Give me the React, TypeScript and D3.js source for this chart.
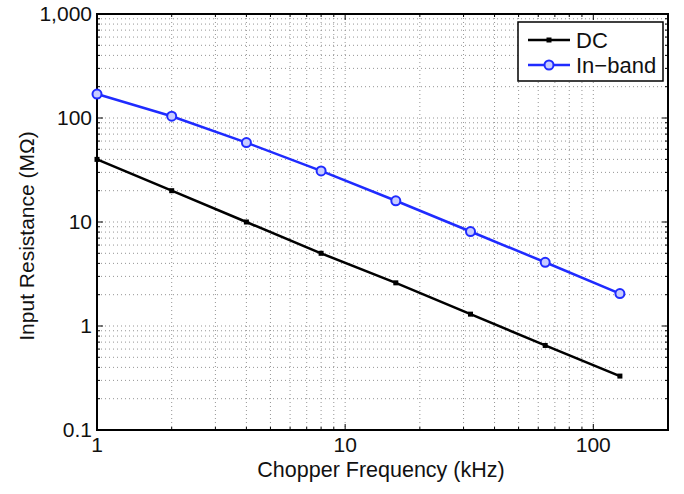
import React from "react";
import * as d3 from "d3";

const freqs = [1, 2, 4, 8, 16, 32, 64, 128];
const dcValues = [40, 20, 10, 5, 2.6, 1.3, 0.65, 0.33];
const inbandValues = [170, 104, 58, 31, 16, 8.1, 4.1, 2.05];
const xTickLabels = ["1", "10", "100"];
const yTickLabels = ["0.1", "1", "10", "100", "1,000"];

const W = 684, H = 494;
const m = { left: 97, right: 668, top: 14, bottom: 430 };

export default function App() {
  const x = d3.scaleLog().domain([1, 200]).range([m.left, m.right]);
  const y = d3.scaleLog().domain([0.1, 1000]).range([m.bottom, m.top]);
  const font = "'Liberation Sans', Arial, Helvetica, sans-serif";

  const xMinor: number[] = [];
  for (let d = 1; d <= 100; d *= 10)
    for (let k = 1; k <= 9; k++) { const v = d * k; if (v <= 200) xMinor.push(v); }
  xMinor.push(200);
  const yMinor: number[] = [];
  for (let d = 0.1; d <= 100.0001; d *= 10)
    for (let k = 1; k <= 9; k++) yMinor.push(d * k);
  yMinor.push(1000);

  const line = d3.line<number>().x((_, i) => x(freqs[i])).y((v) => y(v));
  const xMajor = [1, 10, 100];
  const yMajor = [0.1, 1, 10, 100, 1000];

  return (
    <svg width={W} height={H} style={{ position: "absolute", left: 0, top: 0, background: "#fff" }}>
      <rect x={0} y={0} width={W} height={H} fill="#fff" />
      {/* grid */}
      <g stroke="#888" strokeWidth={0.9} strokeDasharray="1,3">
        {xMinor.map((v, i) => (
          <line key={"gx" + i} x1={x(v)} x2={x(v)} y1={m.top} y2={m.bottom} />
        ))}
        {yMinor.map((v, i) => (
          <line key={"gy" + i} x1={m.left} x2={m.right} y1={y(v)} y2={y(v)} />
        ))}
      </g>
      {/* ticks */}
      <g stroke="#000" strokeWidth={1}>
        {xMinor.map((v, i) => {
          const len = xMajor.includes(v) ? 6 : 3;
          return (
            <g key={"tx" + i}>
              <line x1={x(v)} x2={x(v)} y1={m.bottom} y2={m.bottom - len} />
              <line x1={x(v)} x2={x(v)} y1={m.top} y2={m.top + len} />
            </g>
          );
        })}
        {yMinor.map((v, i) => {
          const len = yMajor.some((t) => Math.abs(t - v) < 1e-9) ? 6 : 3;
          return (
            <g key={"ty" + i}>
              <line x1={m.left} x2={m.left + len} y1={y(v)} y2={y(v)} />
              <line x1={m.right} x2={m.right - len} y1={y(v)} y2={y(v)} />
            </g>
          );
        })}
      </g>
      <rect x={m.left} y={m.top} width={m.right - m.left} height={m.bottom - m.top} fill="none" stroke="#000" strokeWidth={2} />
      {/* tick labels */}
      <g fontFamily={font} fontSize={21} fill="#111">
        {xMajor.map((v, i) => (
          <text key={"xl" + i} x={x(v)} y={m.bottom + 22} textAnchor="middle">{xTickLabels[i]}</text>
        ))}
        {yMajor.map((v, i) => (
          <text key={"yl" + i} x={m.left - 5} y={y(v) + 7} textAnchor="end">{yTickLabels[i]}</text>
        ))}
      </g>
      <text x={381} y={477} textAnchor="middle" fontFamily={font} fontSize={21.5} fill="#111">Chopper Frequency (kHz)</text>
      <text transform={`translate(34, 236) rotate(-90)`} textAnchor="middle" fontFamily={font} fontSize={21} fill="#111">Input Resistance (MΩ)</text>
      {/* series */}
      <path d={line(dcValues) ?? ""} fill="none" stroke="#000" strokeWidth={2.5} />
      {dcValues.map((v, i) => (
        <rect key={"dm" + i} x={x(freqs[i]) - 2.5} y={y(v) - 2.5} width={5} height={5} fill="#000" />
      ))}
      <path d={line(inbandValues) ?? ""} fill="none" stroke="#1f2bff" strokeWidth={2.5} />
      {inbandValues.map((v, i) => (
        <circle key={"bm" + i} cx={x(freqs[i])} cy={y(v)} r={4.5} fill="#c8ccff" stroke="#1f2bff" strokeWidth={2} />
      ))}
      {/* legend */}
      <g>
        <rect x={518} y={22} width={145} height={59} fill="#fff" stroke="#000" strokeWidth={1.5} />
        <line x1={528} x2={570} y1={40} y2={40} stroke="#000" strokeWidth={2.5} />
        <rect x={546.5} y={37.5} width={5} height={5} fill="#000" />
        <line x1={528} x2={570} y1={65} y2={65} stroke="#1f2bff" strokeWidth={2.5} />
        <circle cx={549} cy={65} r={4.5} fill="#c8ccff" stroke="#1f2bff" strokeWidth={2} />
        <text x={576} y={48} fontFamily={font} fontSize={22} fill="#111">DC</text>
        <text x={576} y={73} fontFamily={font} fontSize={22} fill="#111">In−band</text>
      </g>
    </svg>
  );
}
